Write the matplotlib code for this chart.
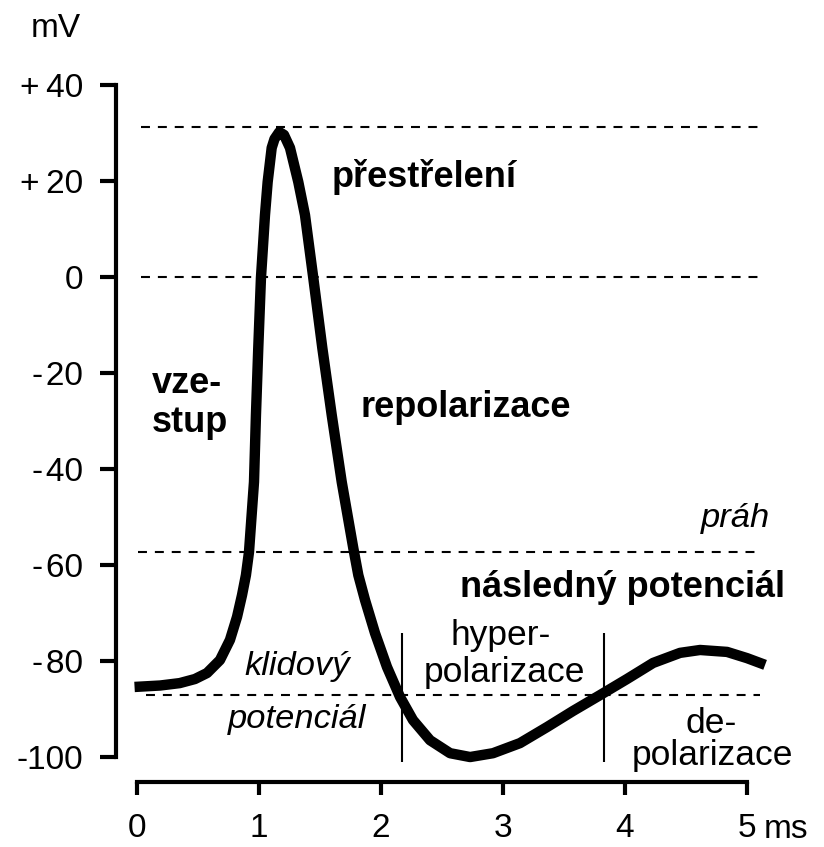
"""Action potential sketch: membrane voltage over time with labelled phases."""

import matplotlib

matplotlib.use("Agg")

import matplotlib.pyplot as plt

plt.rcParams["font.family"] = ["Liberation Sans", "DejaVu Sans"]

# curve (ms, mV)
TIME_MS = [
    -0.02, 0.19, 0.35, 0.475, 0.574, 0.68, 0.762, 0.82, 0.861, 0.893,
    0.918, 0.959, 0.975, 0.994, 1.016, 1.049, 1.071, 1.104, 1.127, 1.166,
    1.205, 1.254, 1.322, 1.377, 1.445, 1.519, 1.596, 1.678, 1.773, 1.814,
    1.869, 1.951, 2.049, 2.156, 2.262, 2.402, 2.566, 2.73, 2.918, 3.139,
    3.361, 3.574, 3.795, 4.016, 4.23, 4.451, 4.615, 4.836, 5.0, 5.148,
]
VOLTAGE_MV = [
    -85.4, -85.1, -84.6, -83.75, -82.5, -79.8, -75.6, -70.8, -66.25, -62.1,
    -57.3, -42.7, -28.75, -14.8, -0.2, 12.9, 19.8, 26.9, 28.75, 30.2,
    29.6, 26.9, 19.8, 12.9, -0.2, -14.8, -28.75, -42.7, -56.5, -62.1,
    -67.3, -74.2, -81.25, -87.5, -92.3, -96.5, -99.2, -100.0, -99.2, -97.1,
    -93.75, -90.4, -87.1, -83.75, -80.4, -78.3, -77.7, -78.1, -79.4, -80.8,
]

# reference levels: overshoot peak, zero, threshold, resting potential
LEVELS_MV = [31.2, 0.0, -57.3, -87.1]
LEVEL_SPANS = [(0.03, 5.15), (0.03, 5.15), (0.01, 5.11), (0.07, 5.11)]

# phase borders
PHASE_BORDERS_MS = [2.17, 3.83]

Y_TICKS = [40, 20, 0, -20, -40, -60, -80, -100]
Y_TICK_LABELS = ["+\u200940", "+\u200920", "0", "-\u200a20", "-\u200a40",
                 "-\u200a60", "-\u200a80", "-100"]
X_TICKS = [0, 1, 2, 3, 4, 5]
X_TICK_LABELS = ["0", "1", "2", "3", "4", "5"]

W, H = 824, 847


def main() -> None:
    fig = plt.figure(figsize=(W / 100, H / 100), dpi=100)
    left, right, bottom, top = 116, 800, 782, 60
    ax = fig.add_axes(
        [left / W, 1 - bottom / H, (right - left) / W, (bottom - top) / H]
    )
    ax.set_xlim(-0.172, 5.434)
    ax.set_ylim(-105.2, 45.2)

    for level, (x0, x1) in zip(LEVELS_MV, LEVEL_SPANS):
        ax.plot([x0, x1], [level, level], color="black", lw=1.5,
                linestyle=(0, (4.3, 3.8)))

    ax.vlines(PHASE_BORDERS_MS, -101, -74.2, color="black", lw=1.5)

    ax.plot(TIME_MS, VOLTAGE_MV, color="black", lw=7.5,
            solid_capstyle="butt", solid_joinstyle="round", clip_on=False)

    for side in ("top", "right"):
        ax.spines[side].set_visible(False)
    ax.spines["left"].set_bounds(-100, 40)
    ax.spines["bottom"].set_bounds(0, 5)
    for side in ("left", "bottom"):
        ax.spines[side].set_linewidth(3)
        ax.spines[side].set_capstyle("projecting")

    ax.set_yticks(Y_TICKS, Y_TICK_LABELS)
    ax.set_xticks(X_TICKS, X_TICK_LABELS)
    ax.tick_params(axis="y", length=11.5, width=3, pad=12, labelsize=24)
    ax.tick_params(axis="x", length=9.5, width=3, pad=13, labelsize=24)

    bold = dict(fontsize=26, fontweight="bold", va="baseline")
    ital = dict(fontsize=24.8, style="italic", va="baseline")
    norm = dict(fontsize=25.5, va="baseline")

    ax.text(1.598, 18.75, "přestřelení", ha="left", **bold)
    ax.text(0.123, -24.2, "vze-", ha="left", **bold)
    ax.text(0.123, -32.3, "stup", ha="left", **bold)
    ax.text(1.828, -29.2, "repolarizace", ha="left", **bold)
    ax.text(5.189, -52.1, "práh", ha="right", **ital)
    ax.text(2.648, -66.7, "následný potenciál", ha="left", **bold)
    ax.text(1.311, -82.9, "klidový", ha="center", **ital)
    ax.text(1.311, -94.0, "potenciál", ha="center", **ital)
    ax.text(2.984, -76.7, "hyper-", ha="center", **norm)
    ax.text(3.008, -84.4, "polarizace", ha="center", **norm)
    ax.text(4.705, -95.0, "de-", ha="center", **norm)
    ax.text(4.713, -101.7, "polarizace", ha="center", **norm)

    fig.text(31 / W, 1 - 37 / H, "mV", fontsize=24, va="baseline", ha="left")
    fig.text(764 / W, 1 - 838 / H, "ms", fontsize=24, va="baseline", ha="left")

    fig.savefig("out.png", dpi=100, facecolor="white")
    plt.close(fig)


if __name__ == "__main__":
    main()
